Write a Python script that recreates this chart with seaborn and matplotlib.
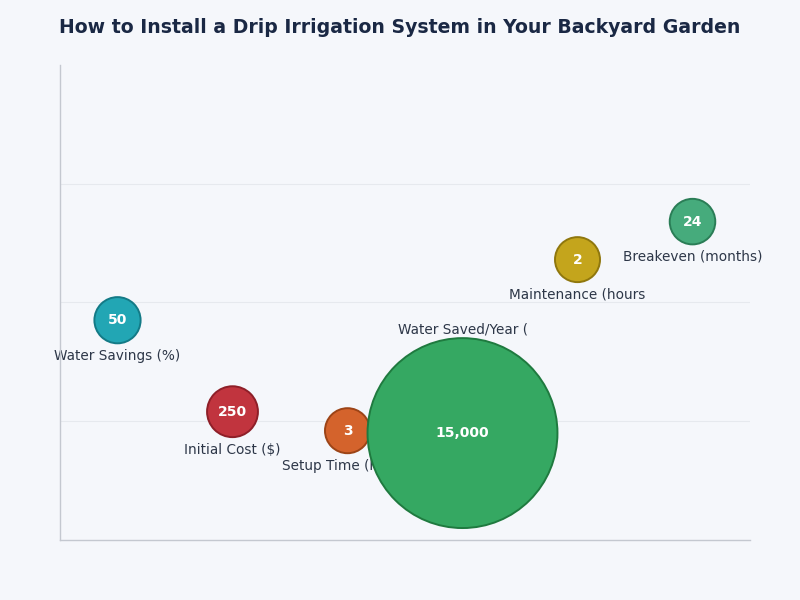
import pandas as pd
import seaborn as sns
import matplotlib.pyplot as plt

# metrics shown as bubbles, left to right
labels = ["Water Savings (%)", "Initial Cost ($)", "Setup Time (hours)",
          "Water Saved/Year (", "Maintenance (hours", "Breakeven (months)"]
values = [50, 250, 3, 15000, 2, 24]
x_pos = [0, 1, 2, 3, 4, 5]
y_pos = [1.85, 1.08, 0.92, 0.90, 2.36, 2.68]
colors = ["#22a6b4", "#c1343e", "#d4632c", "#35a862", "#c4a51c", "#46ab7c"]
edges = ["#137a86", "#8e1f28", "#9c4417", "#1f7a3f", "#8f770d", "#2a7d56"]
value_text = ["50", "250", "3", "15,000", "2", "24"]

df = pd.DataFrame({"label": labels, "value": values, "x": x_pos, "y": y_pos})

bg = "#f5f7fb"
sns.set_theme(style="white")
plt.rcParams["font.family"] = ["DejaVu Sans"]

fig, ax = plt.subplots(figsize=(8, 6), dpi=100)
fig.patch.set_facecolor(bg)
ax.set_facecolor(bg)

size_range = (1050, 18700)
sns.scatterplot(data=df, x="x", y="y", size="value", sizes=size_range,
                hue="label", palette=colors, legend=False, ax=ax,
                linewidth=1.4, alpha=1.0)
coll = ax.collections[0]
coll.set_edgecolor(edges)
coll.set_zorder(3)  # bubbles cover the labels of neighbours

vmin, vmax = min(values), max(values)
for i, row in df.iterrows():
    s = size_range[0] + (row["value"] - vmin) / (vmax - vmin) * (size_range[1] - size_range[0])
    r = s ** 0.5 / 2
    ax.annotate(value_text[i], (row["x"], row["y"]), ha="center", va="center",
                color="white", fontsize=10, fontweight="bold", zorder=5)
    if row["value"] == vmax:
        ax.annotate(row["label"], (row["x"], row["y"]), xytext=(0, r + 1.5),
                    textcoords="offset points", ha="center", va="bottom",
                    color="#2d3748", fontsize=9.8, zorder=2)
    else:
        ax.annotate(row["label"], (row["x"], row["y"]), xytext=(0, -(r + 4)),
                    textcoords="offset points", ha="center", va="top",
                    color="#2d3748", fontsize=9.8, zorder=2)

ax.set_xlim(-0.5, 5.5)
ax.set_ylim(0, 4)
ax.set_yticks([1, 2, 3])
ax.set_xticks([])
ax.tick_params(left=False, bottom=False, labelleft=False, labelbottom=False)
ax.grid(axis="y", color="#e6e9ee", linewidth=0.8)
ax.set_axisbelow(True)
ax.set_xlabel("")
ax.set_ylabel("")
for side in ["top", "right"]:
    ax.spines[side].set_visible(False)
for side in ["left", "bottom"]:
    ax.spines[side].set_color("#c4c8d0")
    ax.spines[side].set_linewidth(1.0)

fig.suptitle("How to Install a Drip Irrigation System in Your Backyard Garden",
             fontsize=13.6, fontweight="bold", color="#1a2844", x=0.5, y=0.97)
plt.subplots_adjust(left=0.075, right=0.9375, top=0.892, bottom=0.1)
plt.savefig("out.png", dpi=100, facecolor=bg)
